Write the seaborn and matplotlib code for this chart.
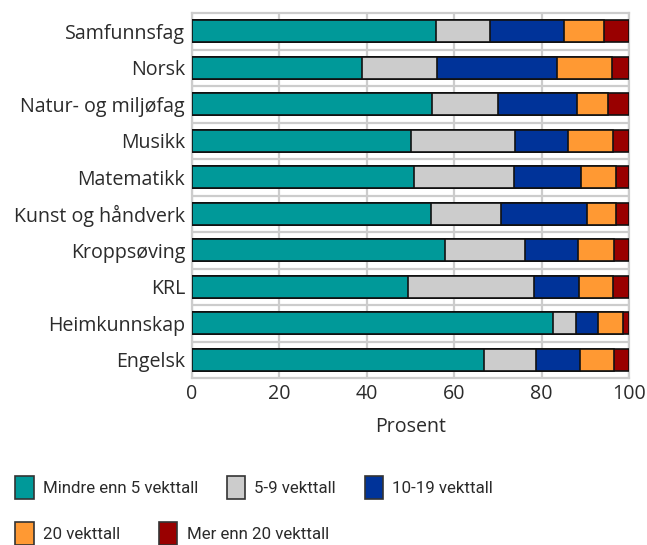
import matplotlib
matplotlib.use("Agg")
import matplotlib.pyplot as plt
import seaborn as sns
import numpy as np
import pandas as pd
from matplotlib.patches import Patch

categories = ["Samfunnsfag", "Norsk", "Natur- og miljøfag", "Musikk", "Matematikk",
              "Kunst og håndverk", "Kroppsøving", "KRL", "Heimkunnskap", "Engelsk"]
series_names = ["Mindre enn 5 vekttall", "5-9 vekttall", "10-19 vekttall",
                "20 vekttall", "Mer enn 20 vekttall"]
mindre5 = [55.9, 38.8, 55.0, 50.1, 50.7, 54.6, 57.8, 49.5, 82.7, 66.8]
v5_9 = [12.3, 17.3, 15.1, 23.9, 23.0, 16.2, 18.5, 28.7, 5.1, 11.9]
v10_19 = [17.0, 27.5, 17.9, 12.0, 15.4, 19.5, 12.0, 10.3, 5.0, 10.2]
v20 = [9.0, 12.5, 7.2, 10.4, 8.0, 6.8, 8.3, 7.9, 5.9, 7.6]
mer20 = [5.8, 3.9, 4.8, 3.6, 2.9, 2.9, 3.4, 3.6, 1.3, 3.5]
colors = ["#009999", "#CCCCCC", "#003399", "#FF9933", "#990000"]
xticks = [0, 20, 40, 60, 80, 100]

sns.set_theme(style="white")
plt.rcParams["font.family"] = ["Open Sans", "DejaVu Sans"]
FS = 14.1
LFS = 12.2
TXT = "#2b2b2b"

series = [mindre5, v5_9, v10_19, v20, mer20]
cum = np.cumsum(np.array(series), axis=0)

fig = plt.figure(figsize=(6.47, 5.45), dpi=100)
ax = fig.add_axes([192/647, 1 - 378/545, (629-192)/647, (378-13)/545])

for i in range(len(series) - 1, -1, -1):
    df = pd.DataFrame({"fag": categories, "verdi": cum[i]})
    sns.barplot(data=df, x="verdi", y="fag", orient="h", color=colors[i],
                saturation=1, width=0.6, edgecolor="#111111", linewidth=1.2,
                ax=ax, zorder=3)

ax.set_xlim(0, 100)
ax.set_ylim(len(categories) - 0.5, -0.5)
ax.set_xticks(xticks)
ax.set_xticklabels([str(t) for t in xticks], fontsize=FS, color=TXT)
ax.set_yticks(range(len(categories)))
ax.set_yticklabels(categories, fontsize=FS, color=TXT)
ax.set_yticks(np.arange(0.5, len(categories) - 0.5, 1), minor=True)
ax.tick_params(axis="both", which="both", length=0)
ax.tick_params(axis="x", pad=4)
ax.tick_params(axis="y", pad=5)
ax.grid(axis="x", which="major", color="#CCCCCC", linewidth=1.6, zorder=0)
ax.grid(axis="y", which="minor", color="#CCCCCC", linewidth=1.6, zorder=0)
ax.grid(axis="y", which="major", visible=False)
for s in ax.spines.values():
    s.set_color("#CCCCCC")
    s.set_linewidth(1.6)
ax.set_xlabel("Prosent", fontsize=FS, color=TXT, labelpad=10)
ax.set_ylabel("")

handles = [Patch(facecolor=c, edgecolor="#333333", linewidth=1.2) for c in colors]
fs_px = LFS * 100 / 72
common = dict(loc="upper left", frameon=False,
              prop={"family": ["Roboto", "Open Sans"], "size": LFS},
              handlelength=18 / fs_px, handleheight=29 / fs_px,
              handletextpad=9.6 / fs_px, labelcolor=TXT,
              borderaxespad=0, borderpad=0)
leg1 = fig.legend(handles[:3], series_names[:3], ncol=3,
                  bbox_to_anchor=(15.5/647, 1 - 475.5/545),
                  columnspacing=28.5 / fs_px, **common)
leg2 = fig.legend(handles[3:], series_names[3:], ncol=2,
                  bbox_to_anchor=(15.5/647, 1 - 521.5/545),
                  columnspacing=38.7 / fs_px, **common)

fig.savefig("out.png", dpi=100)
